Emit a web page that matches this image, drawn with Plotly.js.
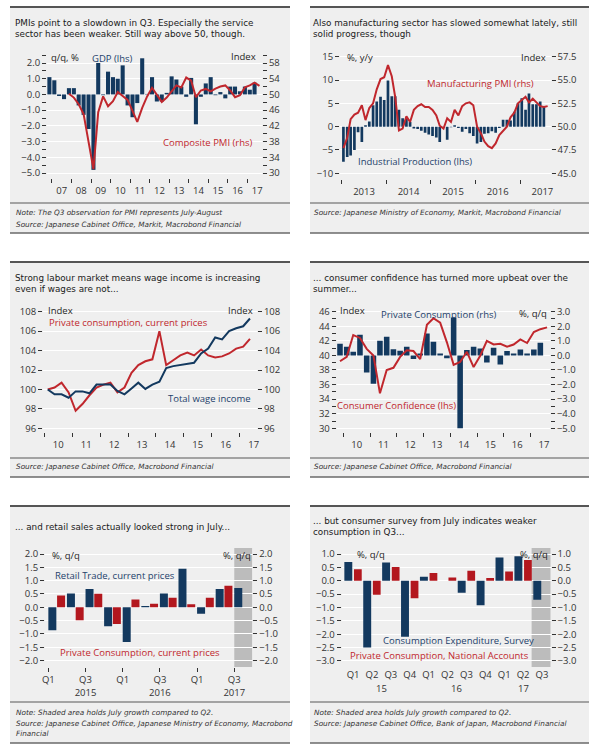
<!DOCTYPE html>
<html><head><meta charset="utf-8">
<script src="https://cdn.plot.ly/plotly-3.0.1.min.js"></script>
<style>html,body{margin:0;padding:0;background:#fff}#chart{width:600px;height:752px}</style>
</head><body><div id="chart"></div>
<script>
// ---------------- DATA ----------------
// Panel 1: GDP q/q (2006Q4-2017Q2), Composite PMI quarterly (2007Q4-2017Q3)
const gdpStart = [2006, 4];
const gdpValues = [1.1, 0.9, -0.1, -0.3, 0.4, 0.4, -0.7, -1.3, -2.2, -4.8, 2.0, -0.05, 1.45, 1.1, 1.0, 1.85, -0.7, -1.45, -0.55, 2.3, 0.03, 1.1, -0.45, -0.45, 0.1, 1.15, 0.95, 0.5, -0.15, 1.05, -1.9, -0.15, 0.7, 1.1, -0.05, 0.15, -0.25, 0.5, 0.5, 0.2, 0.5, 0.3, 0.75];
const pmiCompStart = [2007, 4];
const pmiCompValues = [50.2, 49.2, 47.5, 45.0, 38.0, 31.0, 45.5, 49.5, 47.0, 48.3, 50.6, 49.5, 48.6, 45.8, 43.0, 46.6, 49.5, 51.7, 50.0, 48.1, 49.2, 50.8, 52.3, 51.8, 54.3, 53.5, 49.3, 51.0, 51.4, 50.8, 51.5, 52.0, 52.3, 51.0, 49.3, 49.8, 51.8, 52.3, 53.0, 52.2];

// Panel 2: Industrial production y/y monthly (2013-01..2017-07), Manufacturing PMI (2013-01..2017-08)
const ipStart = [2013, 1];
const ipValues = [-7.5, -6.5, -6.2, -5.0, -1.2, -3.3, 0.3, 1.1, 4.6, 5.4, 6.4, 5.7,
  9.9, 6.5, 6.5, 3.6, 1.8, 1.8, 1.0, -0.4, -0.5, -0.9, -1.3, -1.7,
  -2.0, -2.3, -3.3, -0.1, -2.8, -0.1, 0.3, -0.3, -1.1, -0.5, -1.4, -2.0,
  -3.6, -3.3, -1.5, -1.4, -1.0, -1.3, -0.3, 1.5, 1.5, 1.3, 3.2, 5.0,
  6.1, 3.6, 7.1, 4.8, 4.8, 5.4, 4.4];
const pmiMfgStart = [2013, 1];
const pmiMfgValues = [47.7, 48.8, 50.8, 51.3, 51.5, 52.3, 50.7, 52.0, 52.5, 54.0, 55.1, 55.3,
  56.6, 55.4, 53.2, 49.6, 49.8, 51.1, 50.5, 51.8, 52.2, 52.4, 52.1, 52.1,
  51.8, 51.2, 50.1, 49.8, 50.9, 50.5, 51.8, 51.2, 52.2, 52.5, 52.6, 52.3,
  50.0, 49.3, 48.4, 47.9, 47.7, 48.2, 49.1, 49.5, 50.0, 51.0, 51.5, 52.5,
  52.9, 53.2, 52.6, 53.0, 52.6, 52.2, 52.1, 52.2];

// Panel 3: indices quarterly (2010Q1-2017Q2)
const idxStart = [2010, 1];
const privConsCurrent = [100.0, 100.2, 100.7, 99.7, 97.8, 98.5, 99.4, 100.2, 100.5, 100.7, 99.7, 100.2, 101.7, 102.5, 102.9, 103.1, 106.0, 102.5, 103.0, 103.5, 103.8, 103.5, 104.1, 103.5, 103.3, 103.4, 103.7, 104.2, 104.4, 105.2];
const totalWageIncome = [100.0, 99.5, 99.5, 99.15, 99.8, 99.8, 99.6, 100.5, 100.5, 100.5, 99.85, 99.5, 100.1, 100.7, 100.05, 100.5, 100.8, 102.2, 102.4, 102.5, 102.6, 102.75, 103.7, 104.2, 105.35, 105.15, 106.0, 106.3, 106.5, 107.3];

// Panel 4: private consumption q/q (2009Q4-2017Q2), consumer confidence (2009Q4-2017Q3)
const pcStart = [2009, 4];
const pcValues = [0.8, 0.6, 0.25, 1.42, -1.17, -1.94, 1.0, 1.28, 0.43, 0.32, 0.6, -0.25, 0.14, 1.5, 0.94, 0.14, -0.2, 2.6, -5.0, 0.37, 0.6, 0.48, -0.48, 0.53, -0.62, 0.3, 0.14, 0.41, 0.14, 0.41, 0.87];
const ccStart = [2009, 4];
const ccValues = [39.2, 39.8, 42.8, 42.4, 40.9, 40.0, 34.8, 38.0, 38.3, 39.8, 40.7, 40.6, 39.5, 44.2, 45.1, 44.5, 41.8, 38.7, 39.1, 40.5, 38.4, 40.0, 42.0, 41.5, 41.6, 41.2, 41.5, 42.2, 41.7, 43.2, 43.6, 43.85];

// Panel 5: retail trade vs private consumption (current prices), q/q
const p5Quarters = ['Q1 2015','Q2 2015','Q3 2015','Q4 2015','Q1 2016','Q2 2016','Q3 2016','Q4 2016','Q1 2017','Q2 2017','Q3 2017'];
const retailTrade = [-0.86, 0.52, 0.69, -0.71, -1.3, 0.05, 0.52, 1.45, -0.24, 0.69, 0.72];
const privConsCurrentQ = [0.44, -0.49, 0.51, -0.63, 0.29, 0.13, 0.36, 0.11, 0.36, 0.81];

// Panel 6: consumption expenditure survey vs national accounts, q/q
const p6Quarters = ['Q1 2015','Q2 2015','Q3 2015','Q4 2015','Q1 2016','Q2 2016','Q3 2016','Q4 2016','Q1 2017','Q2 2017','Q3 2017'];
const consExpSurvey = [0.7, -2.5, 0.68, -2.09, 0.15, 0.0, -0.45, -0.92, 0.87, 0.92, -0.71];
const privConsNA = [0.43, -0.52, 0.51, -0.65, 0.29, 0.12, 0.37, 0.10, 0.35, 0.78];

// ---------------- HELPERS ----------------
const W = 600, H = 752;
const X = p => p / W, Y = p => 1 - p / H;
const FONT = 'Open Sans, Liberation Sans, sans-serif';
const WIDE = 'DejaVu Sans, Open Sans, sans-serif';
const NAVY = '#13395f', RED = '#b3171e', RLINE = '#c0272d', TXT = '#1e1e1e', TICK = '#333333';
const DAY = 86400000;
const pad = n => (n < 10 ? '0' : '') + n;
function qDates(start, n) {
  const out = []; let y = start[0], q = start[1];
  for (let i = 0; i < n; i++) { out.push(y + '-' + pad((q - 1) * 3 + 2) + '-15'); q++; if (q > 4) { q = 1; y++; } }
  return out;
}
function mDates(start, n) {
  const out = []; let y = start[0], m = start[1];
  for (let i = 0; i < n; i++) { out.push(y + '-' + pad(m) + '-15'); m++; if (m > 12) { m = 1; y++; } }
  return out;
}
const idx = arr => arr.map((_, i) => i);

const tf = {size: 9.5, color: TICK, family: FONT};
function yAx(o) {
  return Object.assign({
    showgrid: true, gridcolor: '#ffffff', gridwidth: 1, zeroline: false, showline: false,
    ticks: 'outside', ticklen: 4, tickcolor: TICK, tickwidth: 1, tickfont: tf, fixedrange: true, automargin: false
  }, o);
}
function xDate(o) {
  return Object.assign({
    type: 'date', showgrid: false, zeroline: false, showline: false, ticks: 'outside', ticklen: 4,
    tickcolor: TICK, tickwidth: 1, tickfont: tf, dtick: 'M12', ticklabelmode: 'period', fixedrange: true, automargin: false
  }, o);
}
function ann(text, x, y, o) {
  return Object.assign({text: text, x: X(x), y: Y(y), xref: 'paper', yref: 'paper', showarrow: false,
    xanchor: 'left', yanchor: 'middle', align: 'left', font: {size: 9.5, color: TXT, family: FONT}}, o || {});
}
const titleFont = {size: 8.8, color: '#1a1a1a', family: WIDE};
const noteFont = {size: 7.3, color: '#333', family: WIDE, style: 'italic'};
function title(text, x, y) { return ann(text, x, y, {font: titleFont}); }
function note(text, x, y) { return ann(text, x, y, {font: noteFont}); }

// ---------------- TRACES ----------------
const traces = [
  {type: 'bar', x: qDates(gdpStart, gdpValues.length), y: gdpValues, xaxis: 'x', yaxis: 'y',
   width: 76 * DAY, marker: {color: NAVY, line: {width: 0}}},
  {type: 'scatter', mode: 'lines', x: qDates(pmiCompStart, pmiCompValues.length), y: pmiCompValues, xaxis: 'x', yaxis: 'y2',
   line: {color: RLINE, width: 2}},

  {type: 'bar', x: mDates(ipStart, ipValues.length), y: ipValues, xaxis: 'x2', yaxis: 'y3',
   width: 22 * DAY, marker: {color: NAVY, line: {width: 0}}},
  {type: 'scatter', mode: 'lines', x: mDates(pmiMfgStart, pmiMfgValues.length), y: pmiMfgValues, xaxis: 'x2', yaxis: 'y4',
   line: {color: RLINE, width: 2}},

  {type: 'scatter', mode: 'lines', x: qDates(idxStart, privConsCurrent.length), y: privConsCurrent, xaxis: 'x3', yaxis: 'y5',
   line: {color: RLINE, width: 2}},
  {type: 'scatter', mode: 'lines', x: qDates(idxStart, totalWageIncome.length), y: totalWageIncome, xaxis: 'x3', yaxis: 'y6',
   line: {color: NAVY, width: 2}},

  {type: 'bar', x: qDates(pcStart, pcValues.length), y: pcValues, xaxis: 'x4', yaxis: 'y7',
   width: 76 * DAY, marker: {color: NAVY, line: {width: 0}}},
  {type: 'scatter', mode: 'lines', x: qDates(ccStart, ccValues.length), y: ccValues, xaxis: 'x4', yaxis: 'y8',
   line: {color: RLINE, width: 2}},

  {type: 'bar', x: idx(retailTrade), y: retailTrade, xaxis: 'x5', yaxis: 'y9',
   offset: 0.0, width: 0.43, marker: {color: NAVY, line: {width: 0}}},
  {type: 'bar', x: idx(privConsCurrentQ), y: privConsCurrentQ, xaxis: 'x5', yaxis: 'y10',
   offset: 0.47, width: 0.43, marker: {color: RED, line: {width: 0}}},

  {type: 'bar', x: idx(consExpSurvey), y: consExpSurvey, xaxis: 'x6', yaxis: 'y11',
   offset: -0.46, width: 0.42, marker: {color: NAVY, line: {width: 0}}},
  {type: 'bar', x: idx(privConsNA), y: privConsNA, xaxis: 'x6', yaxis: 'y12',
   offset: 0.05, width: 0.41, marker: {color: RED, line: {width: 0}}}
];

// ---------------- AXES ----------------
const p5Tick = p5Quarters.map((q, i) => [q, i]).filter(d => /Q1|Q3/.test(d[0]));
const p5TickVals = p5Tick.map(d => d[1]);
const p5TickText = p5Tick.map(d => d[0].startsWith('Q3') ? 'Q3<br>' + d[0].slice(3) : 'Q1');
const p6TickText = p6Quarters.map(q => q.slice(0, 2));
const p6Years = {};
p6Quarters.forEach((q, i) => { const yr = q.slice(-2); (p6Years[yr] = p6Years[yr] || []).push(i); });

const layout = {
  width: W, height: H, margin: {l: 0, r: 0, t: 0, b: 0},
  paper_bgcolor: '#ffffff', plot_bgcolor: 'rgba(0,0,0,0)',
  showlegend: false, hovermode: false, barmode: 'overlay', font: {family: FONT, color: TXT},

  xaxis: xDate({domain: [X(47), X(262)], anchor: 'y', range: ['2006-10-01', '2017-10-01'], tick0: '2007-01-01', tickformat: '%y'}),
  yaxis: yAx({domain: [Y(178), Y(55)], anchor: 'x', range: [-5.318, 2.509], tick0: 0, dtick: 1, tickformat: '.1f',
    minor: {dtick: 0.5, ticks: 'outside', ticklen: 4, tickcolor: TICK, showgrid: false}}),
  yaxis2: yAx({overlaying: 'y', side: 'right', anchor: 'x', range: [28.73, 60.04], tick0: 30, dtick: 4, showgrid: false,
    minor: {dtick: 2, ticks: 'outside', ticklen: 4, tickcolor: TICK, showgrid: false}}),

  xaxis2: xDate({domain: [X(340), X(550.7)], anchor: 'y3', range: ['2012-12-18', '2017-09-09'], tick0: '2013-01-01', tickformat: '%Y'}),
  yaxis3: yAx({domain: [Y(179), Y(53)], anchor: 'x2', range: [-11.22, 15.79], tick0: 0, dtick: 5}),
  yaxis4: yAx({overlaying: 'y3', side: 'right', anchor: 'x2', range: [44.39, 57.895], tick0: 45, dtick: 2.5, tickformat: '.1f', showgrid: false}),

  xaxis3: xDate({domain: [X(43), X(257)], anchor: 'y5', range: ['2009-12-15', '2017-08-15'], tick0: '2010-01-01', tickformat: '%y'}),
  yaxis5: yAx({domain: [Y(432), Y(305)], anchor: 'x3', range: [95.62, 108.69], tick0: 96, dtick: 2}),
  yaxis6: yAx({overlaying: 'y5', side: 'right', anchor: 'x3', range: [95.62, 108.69], tick0: 96, dtick: 2, showgrid: false}),

  xaxis4: xDate({domain: [X(336.7), X(550)], anchor: 'y7', range: ['2009-10-01', '2017-09-24'], tick0: '2010-01-01', tickformat: '%y'}),
  yaxis7: yAx({domain: [Y(432), Y(305)], anchor: 'x4', side: 'right', range: [-5.255, 3.46], tick0: 0, dtick: 1, tickformat: '.1f',
    minor: {dtick: 0.5, ticks: 'outside', ticklen: 4, tickcolor: TICK, showgrid: false}}),
  yaxis8: yAx({overlaying: 'y7', side: 'left', anchor: 'x4', range: [29.49, 46.92], tick0: 30, dtick: 2, showgrid: false,
    minor: {dtick: 1, ticks: 'outside', ticklen: 4, tickcolor: TICK, showgrid: false}}),

  xaxis5: {domain: [X(45), X(252.3)], anchor: 'y9', range: [-0.18, 10.97], tickmode: 'array', tickvals: p5TickVals, ticktext: p5TickText,
    ticks: 'outside', ticklen: 4, tickcolor: TICK, tickfont: tf, showgrid: false, zeroline: false, showline: false, fixedrange: true},
  yaxis9: yAx({domain: [Y(667), Y(548)], anchor: 'x5', range: [-2.24, 2.225], tick0: 0, dtick: 0.5, tickformat: '.1f'}),
  yaxis10: yAx({overlaying: 'y9', side: 'right', anchor: 'x5', range: [-2.24, 2.225], tick0: 0, dtick: 0.5, tickformat: '.1f', showgrid: false}),

  xaxis6: {domain: [X(341.7), X(550.7)], anchor: 'y11', range: [-0.6, 10.46], tickmode: 'array', tickvals: idx(p6Quarters), ticktext: p6TickText,
    ticks: '', tickfont: tf, showgrid: false, zeroline: false, showline: false, fixedrange: true},
  yaxis11: yAx({domain: [Y(667), Y(548)], anchor: 'x6', range: [-3.225, 1.225], tick0: 0, dtick: 0.5, tickformat: '.1f'}),
  yaxis12: yAx({overlaying: 'y11', side: 'right', anchor: 'x6', range: [-3.225, 1.225], tick0: 0, dtick: 0.5, tickformat: '.1f', showgrid: false}),
};

// ---------------- FRAMES ----------------
const BG = '#efefef';
const panels = [
  {x0: 10, x1: 290, top: 7, sep: 203, bot: 233},
  {x0: 310, x1: 589, top: 7, sep: 203, bot: 233},
  {x0: 10, x1: 290, top: 262, sep: 458, bot: 477},
  {x0: 310, x1: 589, top: 262, sep: 458, bot: 477},
  {x0: 10, x1: 290, top: 506, sep: 702, bot: 743},
  {x0: 310, x1: 589, top: 506, sep: 702, bot: 743}
];
const shapes = [];
panels.forEach(p => {
  shapes.push({type: 'rect', xref: 'paper', yref: 'paper', x0: X(p.x0), x1: X(p.x1), y0: Y(p.bot), y1: Y(p.top),
    fillcolor: BG, line: {width: 0}, layer: 'below'});
  shapes.push({type: 'line', xref: 'paper', yref: 'paper', x0: X(p.x0), x1: X(p.x1), y0: Y(p.top), y1: Y(p.top),
    line: {color: '#555555', width: 2}, layer: 'above'});
  shapes.push({type: 'line', xref: 'paper', yref: 'paper', x0: X(p.x0), x1: X(p.x1), y0: Y(p.sep), y1: Y(p.sep),
    line: {color: '#8a8a8a', width: 1.5}, layer: 'above'});
  shapes.push({type: 'line', xref: 'paper', yref: 'paper', x0: X(p.x0), x1: X(p.x1), y0: Y(p.bot), y1: Y(p.bot),
    line: {color: '#6a6a6a', width: 1.5}, layer: 'above'});
});
// shaded "July" areas
shapes.push({type: 'rect', xref: 'x5', yref: 'y9 domain', x0: p5Quarters.length - 1, x1: 10.97, y0: 0, y1: 1,
  fillcolor: '#bcbcbc', line: {width: 0}, layer: 'below'});
shapes.push({type: 'rect', xref: 'x6', yref: 'y11 domain', x0: p6Quarters.length - 1.55, x1: 10.46, y0: 0, y1: 1,
  fillcolor: '#bcbcbc', line: {width: 0}, layer: 'below'});
layout.shapes = shapes;

// ---------------- TEXT ----------------
const blueF = {size: 9.5, color: '#1d3f6b', family: FONT};
const redF = {size: 9.5, color: RLINE, family: FONT};
const annotations = [
  // Panel 1
  title('PMIs point to a slowdown in Q3. Especially the service<br>sector has been weaker. Still way above 50, though.', 13, 28),
  ann('q/q, %', 49, 57),
  ann('GDP (lhs)', 112, 58, {xanchor: 'center', font: blueF}),
  ann('Index', 258, 56, {xanchor: 'right'}),
  ann('Composite PMI (rhs)', 208, 143, {xanchor: 'center', font: redF}),
  note('Note: The Q3 observation for PMI represents July-August', 14, 212),
  note('Source: Japanese Cabinet Office, Markit, Macrobond Financial', 14, 224),
  // Panel 2
  title('Also manufacturing sector has slowed somewhat lately, still<br>solid progress, though', 311, 28),
  ann('%, y/y', 345, 57),
  ann('Index', 548, 57, {xanchor: 'right'}),
  ann('Manufacturing PMI (rhs)', 480, 84, {xanchor: 'center', font: redF}),
  ann('Industrial Production (lhs)', 415, 161, {xanchor: 'center', font: blueF}),
  note('Source: Japanese Ministry of Economy, Markit, Macrobond Financial', 312, 212),
  // Panel 3
  title('Strong labour market means wage income is increasing<br>even if wages are not...', 13, 283),
  ann('Index', 46, 310),
  ann('Index', 255, 310, {xanchor: 'right'}),
  ann('Private consumption, current prices', 47, 322, {font: redF}),
  ann('Total wage income', 166, 398, {font: blueF}),
  note('Source: Japanese Cabinet Office, Macrobond Financial', 14, 467),
  // Panel 4
  title('... consumer confidence has turned more upbeat over the<br>summer...', 311, 283),
  ann('Index', 338, 310),
  ann('Private Consumption (rhs)', 439, 314, {xanchor: 'center', font: blueF}),
  ann('%, q/q', 549, 313, {xanchor: 'right'}),
  ann('Consumer Confidence (lhs)', 396, 405, {xanchor: 'center', font: redF}),
  note('Source: Japanese Cabinet Office, Macrobond Financial', 312, 467),
  // Panel 5
  title('... and retail sales actually looked strong in July...', 13, 527),
  ann('%, q/q', 50, 555),
  ann('%, q/q', 253, 555, {xanchor: 'right'}),
  ann('Retail Trade, current prices', 115, 575, {xanchor: 'center', font: blueF}),
  ann('Private Consumption, current prices', 140, 652, {xanchor: 'center', font: redF}),
  note('Note: Shaded area holds July growth compared to Q2.', 14, 712),
  note('Source: Japanese Cabinet Office, Japanese Ministry of Economy, Macrobond', 14, 723),
  note('Financial', 14, 733),
  // Panel 6
  title('... but consumer survey from July indicates weaker<br>consumption in Q3...', 311, 526),
  ann('%, q/q', 355, 554),
  ann('%, q/q', 550, 554, {xanchor: 'right'}),
  ann('Consumption Expenditure, Survey', 458, 640, {xanchor: 'center', font: blueF}),
  ann('Private Consumption, National Accounts', 439, 655, {xanchor: 'center', font: redF}),
  note('Note: Shaded area holds July growth compared to Q2.', 312, 712),
  note('Source: Japanese Cabinet Office, Bank of Japan, Macrobond Financial', 312, 723)
];
Object.keys(p6Years).forEach(yr => {
  const ids = p6Years[yr];
  const mid = ids.reduce((a, b) => a + b, 0) / ids.length;
  annotations.push({text: yr, xref: 'x6', yref: 'paper', x: mid, y: Y(688), showarrow: false,
    xanchor: 'center', yanchor: 'middle', font: tf});
});
layout.annotations = annotations;

Plotly.newPlot('chart', traces, layout, {staticPlot: true, displayModeBar: false});
</script>
</body></html>
